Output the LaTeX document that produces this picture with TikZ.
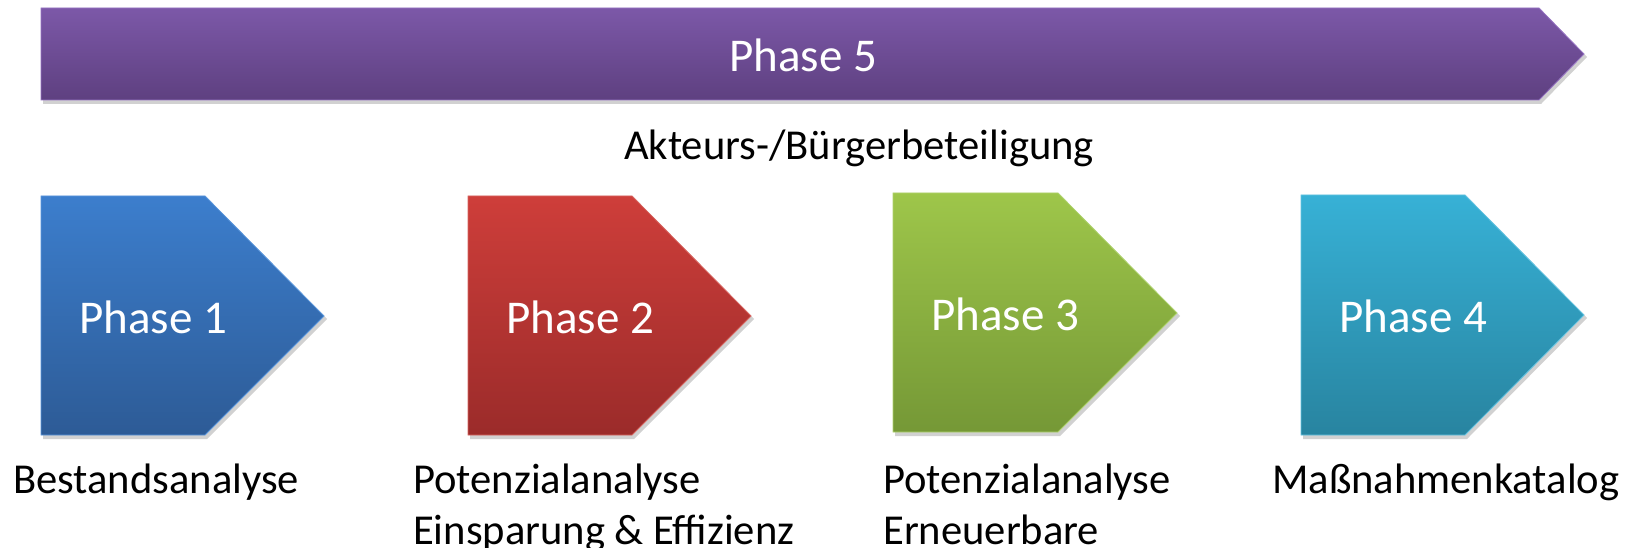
\documentclass[tikz,border=0pt]{standalone}
\usepackage{fontspec}
\setmainfont{Carlito}
\usetikzlibrary{calc}
\definecolor{purT}{RGB}{124,88,168}
\definecolor{purB}{RGB}{94,64,128}
\definecolor{purE}{RGB}{150,115,195}
\definecolor{bluT}{RGB}{60,126,205}
\definecolor{bluB}{RGB}{45,91,150}
\definecolor{bluE}{RGB}{90,150,220}
\definecolor{redT}{RGB}{206,62,58}
\definecolor{redB}{RGB}{155,43,42}
\definecolor{redE}{RGB}{215,100,95}
\definecolor{grnT}{RGB}{158,198,74}
\definecolor{grnB}{RGB}{117,152,54}
\definecolor{grnE}{RGB}{175,210,110}
\definecolor{cyaT}{RGB}{55,177,214}
\definecolor{cyaB}{RGB}{40,132,160}
\definecolor{cyaE}{RGB}{100,195,225}
\tikzset{
  shadowfill/.style={fill=black,opacity=0.18},
  phasetext/.style={text=white,font=\fontsize{47}{56}\selectfont,anchor=base west,inner sep=0pt},
  labeltext/.style={text=black,font=\fontsize{42.6}{51}\selectfont,anchor=base west,inner sep=0pt},
}
\begin{document}
\begin{tikzpicture}[x=1pt,y=-1pt]
\useasboundingbox[fill=white] (0,0) rectangle (1630,548);
% Phase 5 arrow
\fill[shadowfill] (43,11) -- (1541,11) -- (1587,57) -- (1541,104) -- (43,104) -- cycle;
\shade[top color=purT,bottom color=purB,draw=purE,line width=0.8pt]
  (41,8) -- (1539,8) -- (1584,54) -- (1539,100) -- (41,100) -- cycle;
\node[phasetext] (p5) at (729,72) {Phase 5};
\node[labeltext] (akt) at (624,160) {Akteurs-/Bürgerbeteiligung};
% Phase 1
\fill[shadowfill] (43,199) -- (207,199) -- (327,319) -- (207,439) -- (43,439) -- cycle;
\shade[top color=bluT,bottom color=bluB,draw=bluE,line width=0.8pt]
  (41,196) -- (205,196) -- (324,316) -- (205,435) -- (41,435) -- cycle;
\node[phasetext] (p1) at (79,333) {Phase 1};
% Phase 2
\fill[shadowfill] (470,199) -- (634,199) -- (754,319) -- (634,439) -- (470,439) -- cycle;
\shade[top color=redT,bottom color=redB,draw=redE,line width=0.8pt]
  (468,196) -- (632,196) -- (751,316) -- (632,435) -- (468,435) -- cycle;
\node[phasetext] (p2) at (506,333) {Phase 2};
% Phase 3
\fill[shadowfill] (895,196) -- (1060,196) -- (1180,316) -- (1060,436) -- (895,436) -- cycle;
\shade[top color=grnT,bottom color=grnB,draw=grnE,line width=0.8pt]
  (893,193) -- (1058,193) -- (1177,313) -- (1058,432) -- (893,432) -- cycle;
\node[phasetext] (p3) at (931,330) {Phase 3};
% Phase 4
\fill[shadowfill] (1303,198) -- (1467,198) -- (1587,318) -- (1467,439) -- (1303,439) -- cycle;
\shade[top color=cyaT,bottom color=cyaB,draw=cyaE,line width=0.8pt]
  (1301,195) -- (1465,195) -- (1584,315) -- (1465,435) -- (1301,435) -- cycle;
\node[phasetext] (p4) at (1339,332) {Phase 4};
% labels
\node[labeltext] (l1) at (13,493) {Bestandsanalyse};
\node[labeltext] (l2a) at (413,493) {Potenzialanalyse};
\node[labeltext] (l2b) at (413,544) {Einsparung \& Effizienz};
\node[labeltext] (l3a) at (883,493) {Potenzialanalyse};
\node[labeltext] (l3b) at (883,544) {Erneuerbare};
\node[labeltext] (l4) at (1272,493) {Maßnahmenkatalog};
\end{tikzpicture}
\end{document}
